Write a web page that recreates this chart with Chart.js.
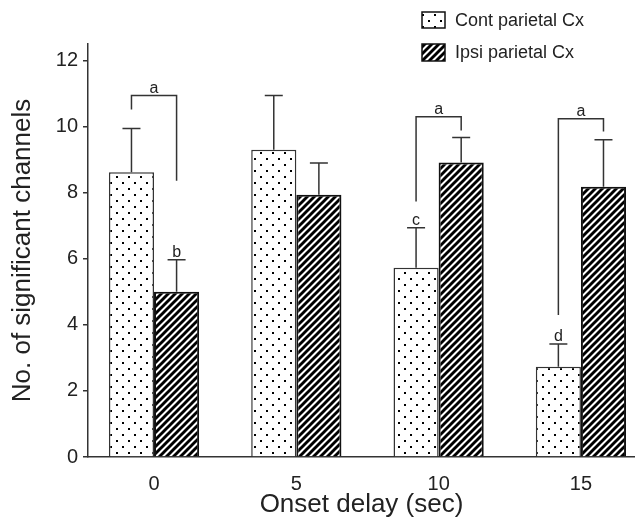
<!DOCTYPE html>
<html><head><meta charset="utf-8">
<script src="https://cdn.jsdelivr.net/npm/chart.js@4.4.1/dist/chart.umd.min.js"></script>
<style>html,body{margin:0;padding:0;background:#fff}#wrap{width:635px;height:519px}</style>
</head><body><div id="wrap"><canvas id="c" width="635" height="519"></canvas></div>
<script>
const categories = [0, 5, 10, 15];
const seriesNames = ['Cont parietal Cx', 'Ipsi parietal Cx'];
const contValues = [8.62, 9.30, 5.73, 2.73];
const contErrors = [1.32, 1.64, 1.21, 0.69];
const ipsiValues = [5.00, 7.94, 8.91, 8.18];
const ipsiErrors = [0.97, 0.96, 0.76, 1.42];
const yTicks = [0, 2, 4, 6, 8, 10, 12];
const xTicks = [0, 5, 10, 15];
const contLetters = ['', '', 'c', 'd'];
const ipsiLetters = ['b', '', '', ''];
const bracketCats = [0, 2, 3];
const bracketTop = [10.94, 10.30, 10.24];
const bracketLeftEnd = [10.52, 7.73, 4.30];
const bracketRightEnd = [8.36, 9.88, 9.85];
const bracketLabels = ['a', 'a', 'a'];

const FONT = '"Liberation Sans", Arial, Helvetica, sans-serif';
const canvas = document.getElementById('c');
const mainCtx = canvas.getContext('2d');

function makeDots() {
  const c = document.createElement('canvas'); c.width = 12; c.height = 12;
  const g = c.getContext('2d');
  g.fillStyle = '#fff'; g.fillRect(0, 0, 12, 12);
  g.fillStyle = '#000';
  g.fillRect(2, 2, 2, 2); g.fillRect(8, 8, 2, 2);
  return mainCtx.createPattern(c, 'repeat');
}
function makeStripes() {
  const s = 7;
  const c = document.createElement('canvas'); c.width = s; c.height = s;
  const g = c.getContext('2d');
  g.fillStyle = '#fff'; g.fillRect(0, 0, s, s);
  g.strokeStyle = '#000'; g.lineWidth = 2.9;
  g.beginPath();
  g.moveTo(-1, s + 1); g.lineTo(s + 1, -1);
  g.moveTo(-s / 2 - 1, s / 2 + 1); g.lineTo(s / 2 + 1, -s / 2 - 1);
  g.moveTo(s / 2 - 1, s * 1.5 + 1); g.lineTo(s * 1.5 + 1, s / 2 - 1);
  g.moveTo(-s - 1, s + 1); g.lineTo(1, -1);
  g.moveTo(s - 1, 2 * s + 1); g.lineTo(2 * s + 1, s - 1);
  g.stroke();
  return mainCtx.createPattern(c, 'repeat');
}
const dotPat = makeDots();
const stripePat = makeStripes();

const overlay = {
  id: 'overlay',
  afterDatasetsDraw(chart) {
    const ctx = chart.ctx;
    const ys = chart.scales.y;
    ctx.save();
    ctx.strokeStyle = '#333';
    ctx.lineWidth = 1.5;
    ctx.fillStyle = '#222';
    ctx.font = '16px ' + FONT;
    ctx.textAlign = 'center';
    ctx.textBaseline = 'alphabetic';
    chart.data.datasets.forEach((ds, di) => {
      const meta = chart.getDatasetMeta(di);
      meta.data.forEach((bar, j) => {
        const top = ys.getPixelForValue(ds.data[j].y + ds.errors[j]);
        ctx.beginPath();
        ctx.moveTo(bar.x, bar.y);
        ctx.lineTo(bar.x, top);
        ctx.moveTo(bar.x - 9, top);
        ctx.lineTo(bar.x + 9, top);
        ctx.stroke();
        if (ds.letters[j]) ctx.fillText(ds.letters[j], bar.x, top - 3);
      });
    });
    const m0 = chart.getDatasetMeta(0), m1 = chart.getDatasetMeta(1);
    bracketCats.forEach((ci, k) => {
      const xl = m0.data[ci].x, xr = m1.data[ci].x;
      const yt = ys.getPixelForValue(bracketTop[k]);
      ctx.beginPath();
      ctx.moveTo(xl, ys.getPixelForValue(bracketLeftEnd[k]));
      ctx.lineTo(xl, yt);
      ctx.lineTo(xr, yt);
      ctx.lineTo(xr, ys.getPixelForValue(bracketRightEnd[k]));
      ctx.stroke();
      ctx.fillText(bracketLabels[k], (xl + xr) / 2, yt - 3);
    });
    ctx.restore();
  },
  afterDraw(chart) {
    const ctx = chart.ctx;
    ctx.save();
    const boxes = [[422, 12, 23, 16], [422, 44, 23, 17]];
    chart.data.datasets.forEach((ds, i) => {
      const [bx, by, bw, bh] = boxes[i];
      ctx.fillStyle = ds.backgroundColor;
      ctx.fillRect(bx, by, bw, bh);
      ctx.strokeStyle = '#111';
      ctx.lineWidth = 1.5;
      ctx.strokeRect(bx, by, bw, bh);
      ctx.fillStyle = '#222';
      ctx.font = '18px ' + FONT;
      ctx.textAlign = 'left';
      ctx.textBaseline = 'middle';
      ctx.fillText(ds.label, 455, by + bh / 2 + 1);
    });
    ctx.restore();
  }
};

new Chart(canvas, {
  type: 'bar',
  data: {
    datasets: [
      { label: seriesNames[0], data: categories.map((x, i) => ({ x, y: contValues[i] })),
        backgroundColor: dotPat, borderColor: '#333', borderWidth: 1.5,
        errors: contErrors, letters: contLetters },
      { label: seriesNames[1], data: categories.map((x, i) => ({ x, y: ipsiValues[i] })),
        backgroundColor: stripePat, borderColor: '#111', borderWidth: 2,
        errors: ipsiErrors, letters: ipsiLetters }
    ]
  },
  options: {
    responsive: false,
    animation: false,
    devicePixelRatio: 1,
    layout: { padding: { top: 44, left: 0, right: 0, bottom: 0 } },
    plugins: { legend: { display: false }, tooltip: { enabled: false } },
    datasets: { bar: { categoryPercentage: 0.634, barPercentage: 1 } },
    scales: {
      x: {
        type: 'linear', min: -2.32, max: 16.9, offset: false,
        grid: { display: false },
        border: { display: true, color: '#333', width: 1.5 },
        afterBuildTicks: s => { s.ticks = xTicks.map(v => ({ value: v })); },
        ticks: { padding: 7, color: '#222', font: { family: FONT, size: 20 } },
        title: { display: true, text: 'Onset delay (sec)', color: '#222',
                 font: { family: FONT, size: 26 }, padding: { top: 0, bottom: -1 } },
        afterFit: s => { s.height = 62; }
      },
      y: {
        min: 0, max: 12.5,
        grid: { drawOnChartArea: false, drawTicks: true, tickLength: 5, color: '#333', lineWidth: 1.5 },
        border: { display: true, color: '#333', width: 1.5 },
        afterBuildTicks: s => { s.ticks = yTicks.map(v => ({ value: v })); },
        ticks: { padding: 5, color: '#222', font: { family: FONT, size: 20 } },
        title: { display: true, text: 'No. of significant channels', color: '#222',
                 font: { family: FONT, size: 26 }, padding: { top: 7, bottom: 0 } },
        afterFit: s => { s.width = 88; }
      }
    }
  },
  plugins: [overlay]
});
</script>
</body></html>
